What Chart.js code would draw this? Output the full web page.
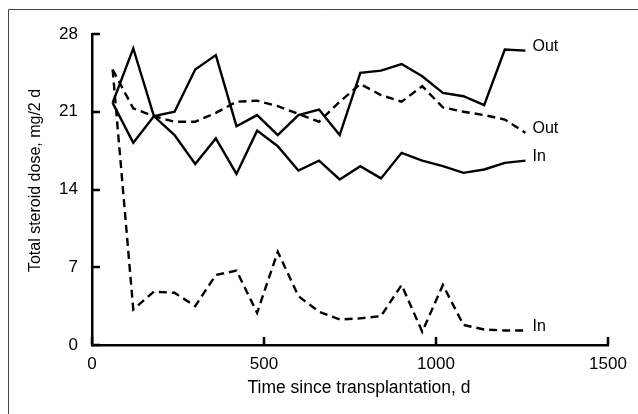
<!DOCTYPE html>
<html>
<head>
<meta charset="utf-8">
<script src="https://cdn.jsdelivr.net/npm/chart.js"></script>
<style>
  html, body { margin: 0; padding: 0; background: #fff; }
  #wrap { width: 638px; height: 414px; }
</style>
</head>
<body>
<div id="wrap"><canvas id="steroidChart" width="638" height="414"></canvas></div>
<script>
var days = [60, 120, 180, 240, 300, 360, 420, 480, 540, 600, 660, 720, 780, 840, 900, 960, 1020, 1080, 1140, 1200, 1260];
var outSolid = [21.8, 26.7, 20.6, 21.0, 24.8, 26.1, 19.7, 20.7, 18.9, 20.7, 21.2, 18.9, 24.5, 24.7, 25.3, 24.2, 22.7, 22.4, 21.6, 26.6, 26.5];
var outDashed = [24.8, 21.3, 20.6, 20.1, 20.1, 20.9, 21.9, 22.0, 21.5, 20.8, 20.1, 21.9, 23.5, 22.5, 21.9, 23.3, 21.4, 21.0, 20.7, 20.3, 19.1];
var inSolid = [21.8, 18.2, 20.6, 18.9, 16.3, 18.6, 15.4, 19.3, 17.9, 15.7, 16.6, 14.9, 16.1, 15.0, 17.3, 16.6, 16.1, 15.5, 15.8, 16.4, 16.6];
var inDashed = [24.8, 3.2, 4.8, 4.7, 3.5, 6.3, 6.7, 2.9, 8.4, 4.4, 3.0, 2.3, 2.4, 2.6, 5.4, 1.2, 5.4, 1.8, 1.4, 1.3, 1.3];
var seriesLabels = ["Out", "Out", "In", "In"];
var xTicks = [0, 500, 1000, 1500];
var yTicks = [0, 7, 14, 21, 28];
var xTitle = "Time since transplantation, d";
var yTitle = "Total steroid dose, mg/2 d";

var FONT = "'Liberation Sans', Arial, Helvetica, sans-serif";
Chart.defaults.font.family = FONT;
Chart.defaults.font.size = 17;
Chart.defaults.color = "#000";

function pts(vals) {
  return vals.map(function (v, i) {
    return { x: days[i], y: v };
  });
}

function series(label, vals, dashed) {
  return {
    label: label,
    data: pts(vals),
    borderColor: "#000",
    borderWidth: 2.4,
    borderDash: dashed ? [8, 5] : [],
    pointRadius: 0,
    tension: 0,
    fill: false,
  };
}

// inward tick marks on both axes
var tickMarks = {
  id: "tickMarks",
  afterDatasetsDraw: function (chart) {
    var ctx = chart.ctx;
    var xs = chart.scales.x;
    var ys = chart.scales.y;
    var a = chart.chartArea;
    ctx.save();
    ctx.strokeStyle = "#000";
    ctx.lineWidth = 2.5;
    ctx.beginPath();
    xTicks.forEach(function (v) {
      var px = Math.round(xs.getPixelForValue(v));
      ctx.moveTo(px, a.bottom);
      ctx.lineTo(px, a.bottom - 8);
    });
    yTicks.forEach(function (v) {
      var py = Math.round(ys.getPixelForValue(v));
      ctx.moveTo(a.left, py);
      ctx.lineTo(a.left + 8, py);
    });
    ctx.stroke();
    ctx.restore();
  },
};

// series names at the end of each line
var endLabels = {
  id: "endLabels",
  afterDatasetsDraw: function (chart) {
    var ctx = chart.ctx;
    ctx.save();
    ctx.fillStyle = "#000";
    ctx.font = "16px " + FONT;
    ctx.textAlign = "left";
    ctx.textBaseline = "middle";
    chart.data.datasets.forEach(function (ds, i) {
      var meta = chart.getDatasetMeta(i);
      var p = meta.data[meta.data.length - 1];
      ctx.fillText(seriesLabels[i], p.x + 7, p.y - 4);
    });
    ctx.restore();
  },
};

// axis titles, placed a bit off-centre like the original
var axisTitles = {
  id: "axisTitles",
  afterDraw: function (chart) {
    var ctx = chart.ctx;
    var a = chart.chartArea;
    ctx.save();
    ctx.fillStyle = "#000";
    ctx.textAlign = "center";
    ctx.textBaseline = "alphabetic";
    ctx.font = "17.5px " + FONT;
    ctx.fillText(xTitle, (a.left + a.right) / 2 + 9, 393);
    ctx.font = "16px " + FONT;
    ctx.translate(40, (a.top + a.bottom) / 2 - 9);
    ctx.rotate(-Math.PI / 2);
    ctx.fillText(yTitle, 0, 0);
    ctx.restore();
  },
};

// thin frame round the figure (left and top edges)
var frame = {
  id: "frame",
  beforeDraw: function (chart) {
    var ctx = chart.ctx;
    ctx.save();
    ctx.strokeStyle = "#444";
    ctx.lineWidth = 1;
    ctx.beginPath();
    ctx.moveTo(8.5, chart.height);
    ctx.lineTo(8.5, 9.5);
    ctx.lineTo(chart.width, 9.5);
    ctx.stroke();
    ctx.restore();
  },
};

function plain(v) {
  return String(v);
}

new Chart(document.getElementById("steroidChart"), {
  type: "line",
  data: {
    datasets: [
      series("Out", outSolid, false),
      series("Out", outDashed, true),
      series("In", inSolid, false),
      series("In", inDashed, true),
    ],
  },
  options: {
    responsive: false,
    animation: false,
    layout: { padding: { left: 0, top: 34, right: 30, bottom: 0 } },
    plugins: { legend: { display: false }, tooltip: { enabled: false } },
    scales: {
      x: {
        type: "linear",
        min: 0,
        max: 1500,
        afterBuildTicks: function (s) {
          s.ticks = xTicks.map(function (v) { return { value: v }; });
        },
        afterFit: function (s) { s.height = 69; },
        grid: { display: false, drawTicks: false },
        border: { color: "#000", width: 2.5 },
        ticks: { padding: 9, maxRotation: 0, autoSkip: false, color: "#000", callback: plain },
      },
      y: {
        min: 0,
        max: 28,
        afterBuildTicks: function (s) {
          s.ticks = yTicks.map(function (v) { return { value: v }; });
        },
        afterFit: function (s) { s.width = 92; },
        grid: { display: false, drawTicks: false },
        border: { color: "#000", width: 2.5 },
        ticks: { padding: 14, autoSkip: false, color: "#000", callback: plain },
      },
    },
  },
  plugins: [frame, tickMarks, endLabels, axisTitles],
});
</script>
</body>
</html>
